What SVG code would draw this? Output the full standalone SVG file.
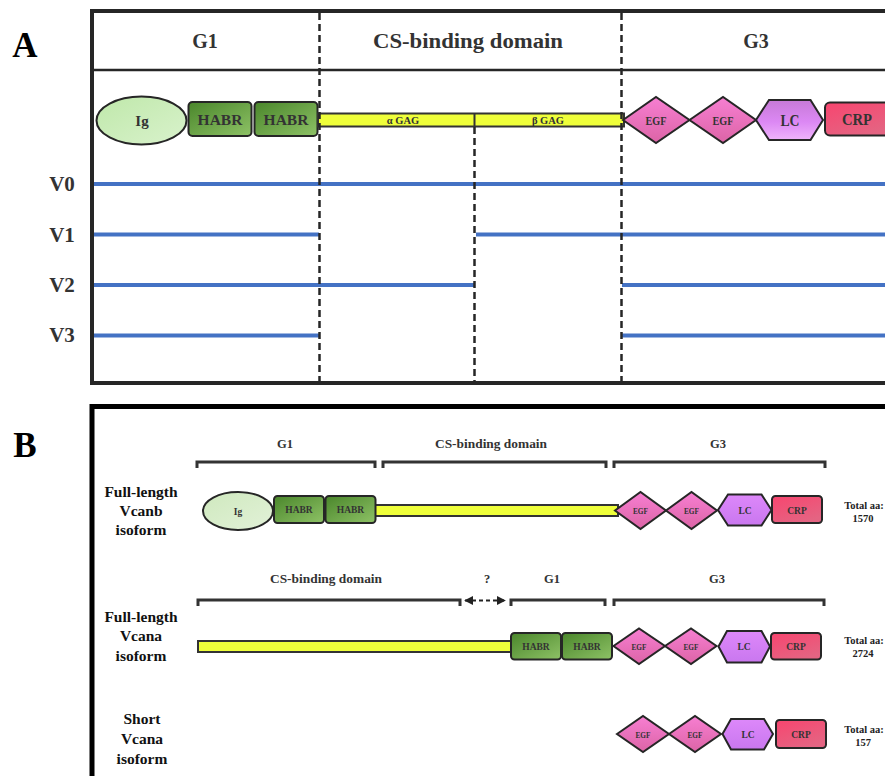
<svg xmlns="http://www.w3.org/2000/svg" width="885" height="776" viewBox="0 0 885 776">
  <defs>
    <linearGradient id="gIg" x1="0" y1="0" x2="1" y2="1">
      <stop offset="0" stop-color="#bfe8aa"/>
      <stop offset="1" stop-color="#d9f2cc"/>
    </linearGradient>
    <linearGradient id="gIgB" x1="0" y1="0" x2="1" y2="1">
      <stop offset="0" stop-color="#cfe9be"/>
      <stop offset="1" stop-color="#e2f1d8"/>
    </linearGradient>
    <linearGradient id="gHabr" x1="0" y1="0" x2="1" y2="1">
      <stop offset="0" stop-color="#4a862b"/>
      <stop offset="1" stop-color="#8ec266"/>
    </linearGradient>
    <linearGradient id="gEgf" x1="0" y1="0" x2="0" y2="1">
      <stop offset="0" stop-color="#f77fd2"/>
      <stop offset="1" stop-color="#dc64a6"/>
    </linearGradient>
    <linearGradient id="gLc" x1="0" y1="0" x2="0" y2="1">
      <stop offset="0" stop-color="#c67ad6"/>
      <stop offset="0.55" stop-color="#dc88f4"/>
      <stop offset="1" stop-color="#efb4fb"/>
    </linearGradient>
    <linearGradient id="gLcB" x1="0" y1="0" x2="0" y2="1">
      <stop offset="0" stop-color="#dd88fa"/>
      <stop offset="1" stop-color="#c977ef"/>
    </linearGradient>
    <linearGradient id="gCrp" x1="0" y1="0" x2="0.6" y2="1">
      <stop offset="0" stop-color="#f8456f"/>
      <stop offset="1" stop-color="#e46482"/>
    </linearGradient>
    <marker id="ah" viewBox="0 0 10 10" refX="9" refY="5" markerWidth="5" markerHeight="5" orient="auto-start-reverse">
      <path d="M0,0 L10,5 L0,10 z" fill="#222"/>
    </marker>
  </defs>
  <style>
    text { font-family: "Liberation Serif", "DejaVu Serif", serif; font-weight: bold; fill: #333; text-anchor: middle; }
    .panel { font-size: 35px; fill: #000; }
    .head { font-size: 20px; }
    .var { font-size: 21px; }
    .row { font-size: 15.5px; fill: #111; }
    .sub { font-size: 12.5px; }
    .tot { font-size: 10.5px; fill: #222; }
    .frameA { fill: none; stroke: #262626; stroke-width: 4; }
    .frameB { fill: none; stroke: #000; stroke-width: 5; }
    .dash { stroke: #262626; stroke-width: 2.5; stroke-dasharray: 7 4; fill: none; }
    .blue { stroke: #4472c4; stroke-width: 4; fill: none; }
    .br { stroke: #333; stroke-width: 3; fill: none; }
    .dom { stroke: #262626; stroke-width: 2; }
    .ig { fill: url(#gIg); }
    .igB { fill: url(#gIgB); }
    .habr { fill: url(#gHabr); }
    .egf { fill: url(#gEgf); }
    .lc { fill: url(#gLc); }
    .lcB { fill: url(#gLcB); }
    .crp { fill: url(#gCrp); }
    .gag { fill: #efff3a; stroke: #333; stroke-width: 2; }
  </style>

  <rect width="885" height="776" fill="#fff"/>

  <!-- ===== Panel A ===== -->
  <text class="panel" x="25" y="57">A</text>
  <g id="panelA-frame">
    <rect class="frameA" x="92" y="11" width="800" height="372"/>
    <line x1="92" y1="70" x2="885" y2="70" stroke="#262626" stroke-width="2.5"/>
  </g>
  <g id="panelA-headers">
    <text class="head" x="205" y="48">G1</text>
    <text class="head" x="468" y="48" textLength="190" lengthAdjust="spacingAndGlyphs">CS-binding domain</text>
    <text class="head" x="756" y="48">G3</text>
  </g>

  <g id="panelA-domains">
    <g id="a-ig"><ellipse class="dom ig" cx="141.5" cy="120.5" rx="45" ry="24"/><text x="142" y="126" font-size="15">Ig</text></g>
    <g id="a-habr1"><rect class="dom habr" x="188.5" y="102" width="63" height="34" rx="4"/><text x="220" y="125" font-size="15.5">HABR</text></g>
    <g id="a-habr2"><rect class="dom habr" x="254.5" y="102" width="63" height="34" rx="4"/><text x="286" y="125" font-size="15.5">HABR</text></g>
    <g id="a-gag">
      <rect class="gag" x="318" y="113.5" width="306" height="13"/>
      <line x1="474.5" y1="113.5" x2="474.5" y2="126.5" stroke="#333" stroke-width="2"/>
      <text x="403" y="124" font-size="10.5">α GAG</text>
      <text x="548" y="124" font-size="10.5">β GAG</text>
    </g>
    <g id="a-egf1"><polygon class="dom egf" points="623,120 656,97 689.5,120 656,143"/><text x="656" y="124.5" font-size="11.5" textLength="21" lengthAdjust="spacingAndGlyphs">EGF</text></g>
    <g id="a-egf2"><polygon class="dom egf" points="689.5,120 723,97 756,120 723,143"/><text x="723" y="124.5" font-size="11.5" textLength="21" lengthAdjust="spacingAndGlyphs">EGF</text></g>
    <g id="a-lc"><polygon class="dom lc" points="756,120 769,100 810.5,100 823,120 810.5,140 769,140"/><text x="790" y="126" font-size="17" textLength="19" lengthAdjust="spacingAndGlyphs">LC</text></g>
    <g id="a-crp"><rect class="dom crp" x="825" y="102.5" width="66" height="33" rx="5"/><text x="857" y="125" font-size="16" textLength="30" lengthAdjust="spacingAndGlyphs">CRP</text></g>
  </g>

  <g id="panelA-variants">
    <text class="var" x="62" y="191">V0</text>
    <text class="var" x="62" y="242">V1</text>
    <text class="var" x="62" y="292">V2</text>
    <text class="var" x="62" y="342">V3</text>
    <line class="blue" x1="94" y1="184" x2="885" y2="184"/>
    <line class="blue" x1="94" y1="234.5" x2="319" y2="234.5"/>
    <line class="blue" x1="476" y1="234.5" x2="885" y2="234.5"/>
    <line class="blue" x1="94" y1="285" x2="474" y2="285"/>
    <line class="blue" x1="622" y1="285" x2="885" y2="285"/>
    <line class="blue" x1="94" y1="335.5" x2="319" y2="335.5"/>
    <line class="blue" x1="622" y1="335.5" x2="885" y2="335.5"/>
  </g>

  <g id="panelA-dividers">
    <line class="dash" x1="319.5" y1="13" x2="319.5" y2="381"/>
    <line class="dash" x1="621.5" y1="13" x2="621.5" y2="381"/>
    <line class="dash" x1="474.5" y1="127" x2="474.5" y2="381"/>
  </g>

  <!-- ===== Panel B ===== -->
  <text class="panel" x="25" y="457">B</text>
  <g id="panelB-frame">
    <rect class="frameB" x="92" y="406.5" width="800" height="380"/>
  </g>

  <!-- Full-length Vcanb -->
  <g id="vcanb-label">
    <text class="row" x="141" y="497">Full-length</text>
    <text class="row" x="141" y="516">Vcanb</text>
    <text class="row" x="141" y="535">isoform</text>
  </g>
  <g id="vcanb-brackets">
    <text class="sub" x="285" y="448">G1</text>
    <text class="sub" x="491" y="448" textLength="112" lengthAdjust="spacingAndGlyphs">CS-binding domain</text>
    <text class="sub" x="718" y="448">G3</text>
    <path class="br" d="M197,468 V462 H375 V468"/>
    <path class="br" d="M383,468 V462 H606 V468"/>
    <path class="br" d="M614,468 V462 H825 V468"/>
  </g>
  <g id="vcanb-domains">
    <rect class="gag" x="375" y="505" width="243" height="11"/>
    <g id="b1-ig"><ellipse class="dom igB" cx="238" cy="511" rx="35" ry="19"/><text x="238" y="515" font-size="9.5">Ig</text></g>
    <g id="b1-habr1"><rect class="dom habr" x="274" y="496" width="50" height="27" rx="3.5"/><text x="299" y="513" font-size="9.5">HABR</text></g>
    <g id="b1-habr2"><rect class="dom habr" x="325.5" y="496" width="50" height="27" rx="3.5"/><text x="350.5" y="513" font-size="9.5">HABR</text></g>
    <g id="b1-egf1"><polygon class="dom egf" points="615,510.5 640.5,492 666,510.5 640.5,529"/><text x="640.5" y="514" font-size="9" textLength="15" lengthAdjust="spacingAndGlyphs">EGF</text></g>
    <g id="b1-egf2"><polygon class="dom egf" points="666,510.5 691.5,492 717,510.5 691.5,529"/><text x="691.5" y="514" font-size="9" textLength="15" lengthAdjust="spacingAndGlyphs">EGF</text></g>
    <g id="b1-lc"><polygon class="dom lcB" points="718,510 728,494.5 761.5,494.5 771.5,510 761.5,525.5 728,525.5"/><text x="745" y="514" font-size="9.5">LC</text></g>
    <g id="b1-crp"><rect class="dom crp" x="772" y="496" width="50" height="27" rx="3.5"/><text x="797" y="513.5" font-size="9.5">CRP</text></g>
  </g>
  <g id="vcanb-total">
    <text class="tot" x="864" y="509">Total aa:</text>
    <text class="tot" x="863" y="522">1570</text>
  </g>

  <!-- Full-length Vcana -->
  <g id="vcana-label">
    <text class="row" x="141" y="622">Full-length</text>
    <text class="row" x="141" y="641">Vcana</text>
    <text class="row" x="141" y="661">isoform</text>
  </g>
  <g id="vcana-brackets">
    <text class="sub" x="326" y="583" textLength="112" lengthAdjust="spacingAndGlyphs">CS-binding domain</text>
    <text class="sub" x="487" y="583">?</text>
    <text class="sub" x="552" y="583">G1</text>
    <text class="sub" x="717" y="583">G3</text>
    <path class="br" d="M198,606 V600 H460 V606"/>
    <path class="br" d="M511,606 V600 H605 V606"/>
    <path class="br" d="M614,606 V600 H824 V606"/>
  </g>
  <g id="connectors">
    <line x1="465" y1="600.5" x2="505" y2="600.5" stroke="#222" stroke-width="1.8" stroke-dasharray="4 3" marker-start="url(#ah)" marker-end="url(#ah)"/>
  </g>
  <g id="vcana-domains">
    <rect class="gag" x="198" y="641" width="313" height="11"/>
    <g id="b2-habr1"><rect class="dom habr" x="511" y="633" width="50" height="26.5" rx="3.5"/><text x="536" y="650" font-size="9.5">HABR</text></g>
    <g id="b2-habr2"><rect class="dom habr" x="562" y="633" width="50" height="26.5" rx="3.5"/><text x="587" y="650" font-size="9.5">HABR</text></g>
    <g id="b2-egf1"><polygon class="dom egf" points="613.5,646 639,628.5 665,646 639,664"/><text x="639" y="649.5" font-size="9" textLength="15" lengthAdjust="spacingAndGlyphs">EGF</text></g>
    <g id="b2-egf2"><polygon class="dom egf" points="665,646 691,628.5 716.5,646 691,664"/><text x="691" y="649.5" font-size="9" textLength="15" lengthAdjust="spacingAndGlyphs">EGF</text></g>
    <g id="b2-lc"><polygon class="dom lcB" points="718.5,646.5 727,631 761.5,631 770,646.5 761.5,662.5 727,662.5"/><text x="744" y="650" font-size="9.5">LC</text></g>
    <g id="b2-crp"><rect class="dom crp" x="771" y="633" width="50" height="26.5" rx="3.5"/><text x="796" y="650" font-size="9.5">CRP</text></g>
  </g>
  <g id="vcana-total">
    <text class="tot" x="864" y="644">Total aa:</text>
    <text class="tot" x="863" y="657">2724</text>
  </g>

  <!-- Short Vcana -->
  <g id="short-label">
    <text class="row" x="142" y="724">Short</text>
    <text class="row" x="142" y="744">Vcana</text>
    <text class="row" x="142" y="764">isoform</text>
  </g>
  <g id="short-domains">
    <g id="b3-egf1"><polygon class="dom egf" points="617,734 643,716 669,734 643,752"/><text x="643" y="737.5" font-size="9" textLength="15" lengthAdjust="spacingAndGlyphs">EGF</text></g>
    <g id="b3-egf2"><polygon class="dom egf" points="669,734 695,716 721,734 695,752"/><text x="695" y="737.5" font-size="9" textLength="15" lengthAdjust="spacingAndGlyphs">EGF</text></g>
    <g id="b3-lc"><polygon class="dom lcB" points="722.5,734 731,719 764,719 773,734 764,749.5 731,749.5"/><text x="748" y="737.5" font-size="9.5">LC</text></g>
    <g id="b3-crp"><rect class="dom crp" x="776" y="720" width="50" height="28" rx="3.5"/><text x="801" y="737.5" font-size="9.5">CRP</text></g>
  </g>
  <g id="short-total">
    <text class="tot" x="864" y="733">Total aa:</text>
    <text class="tot" x="863" y="746">157</text>
  </g>
</svg>
